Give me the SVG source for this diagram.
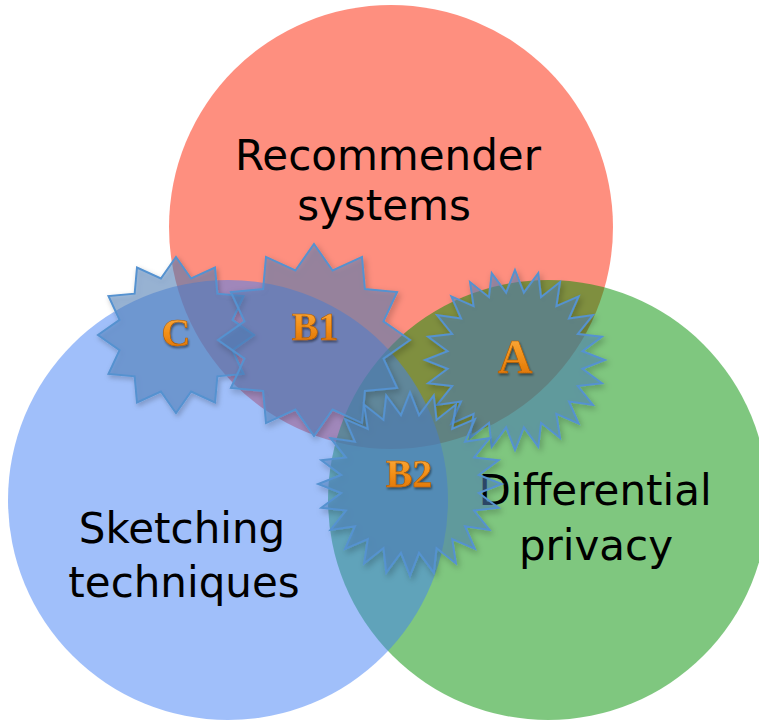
<svg xmlns="http://www.w3.org/2000/svg" xmlns:xlink="http://www.w3.org/1999/xlink" width="759" height="723" viewBox="0 0 759 723">
<style>
.circle-red{fill:#fd1f00;fill-opacity:0.5}
.circle-green{fill:#008f00;fill-opacity:0.5}
.circle-blue{fill:#417ff5;fill-opacity:0.5}
.ctext{font-family:"DejaVu Sans","Open Sans","Liberation Sans",sans-serif;font-size:42px;fill:#000;text-anchor:middle}
.star{fill:#4f81bd;fill-opacity:0.5;stroke:#5592d0;stroke-width:2;stroke-linejoin:miter;filter:url(#shadow)}
.slabel{font-family:"Liberation Serif","DejaVu Serif",serif;font-weight:bold;fill:url(#orange);stroke:#b35c00;stroke-width:0.6;text-anchor:middle;filter:url(#tshadow)}
</style>
<defs>
<linearGradient id="orange" x1="0" y1="0" x2="0" y2="1">
<stop offset="0" stop-color="#fbb24a"/>
<stop offset="0.5" stop-color="#f39018"/>
<stop offset="1" stop-color="#d86c00"/>
</linearGradient>
<filter id="shadow" x="-20%" y="-20%" width="140%" height="140%">
<feDropShadow dx="2" dy="3" stdDeviation="3" flood-color="#000" flood-opacity="0.3"/>
</filter>
<filter id="tshadow" x="-20%" y="-20%" width="140%" height="150%">
<feDropShadow dx="1" dy="2" stdDeviation="1" flood-color="#000" flood-opacity="0.45"/>
</filter>
<polygon id="star12" vector-effect="non-scaling-stroke" points="0,-96 18.6,-69.5 48,-83.1 50.9,-50.9 83.1,-48 69.5,-18.6 96,0 69.5,18.6 83.1,48 50.9,50.9 48,83.1 18.6,69.5 0,96 -18.6,69.5 -48,83.1 -50.9,50.9 -83.1,48 -69.5,18.6 -96,0 -69.5,-18.6 -83.1,-48 -50.9,-50.9 -48,-83.1 -18.6,-69.5"/>
<polygon id="star24" vector-effect="non-scaling-stroke" points="0,-90 8.88,-67.42 23.29,-86.93 26.02,-62.82 45,-77.94 41.4,-53.95 63.64,-63.64 53.95,-41.4 77.94,-45 62.82,-26.02 86.93,-23.29 67.42,-8.88 90,0 67.42,8.88 86.93,23.29 62.82,26.02 77.94,45 53.95,41.4 63.64,63.64 41.4,53.95 45,77.94 26.02,62.82 23.29,86.93 8.88,67.42 0,90 -8.88,67.42 -23.29,86.93 -26.02,62.82 -45,77.94 -41.4,53.95 -63.64,63.64 -53.95,41.4 -77.94,45 -62.82,26.02 -86.93,23.29 -67.42,8.88 -90,0 -67.42,-8.88 -86.93,-23.29 -62.82,-26.02 -77.94,-45 -53.95,-41.4 -63.64,-63.64 -41.4,-53.95 -45,-77.94 -26.02,-62.82 -23.29,-86.93 -8.88,-67.42"/>
</defs>
<rect width="759" height="723" fill="#ffffff"/>
<g id="recommender-systems">
<circle class="circle-red" cx="391" cy="227" r="222"/>
</g>
<g id="differential-privacy">
<circle class="circle-green" cx="548" cy="500" r="220"/>
</g>
<g id="sketching-techniques">
<circle class="circle-blue" cx="228" cy="500" r="220"/>
</g>
<g id="labels">
<text class="ctext" x="388" y="170">Recommender</text>
<text class="ctext" x="384" y="220">systems</text>
<text class="ctext" x="182" y="543">Sketching</text>
<text class="ctext" x="184" y="597">techniques</text>
<text class="ctext" x="595" y="505">Differential</text>
<text class="ctext" x="596" y="560">privacy</text>
</g>
<g id="star-C">
<use xlink:href="#star12" href="#star12" class="star" transform="translate(176,335) scale(0.8125)"/>
<text class="slabel" x="176" y="346" font-size="40">C</text>
</g>
<g id="star-B1">
<use xlink:href="#star12" href="#star12" class="star" transform="translate(314,340)"/>
<text class="slabel" x="315" y="340" font-size="40">B1</text>
</g>
<g id="star-A">
<use xlink:href="#star24" href="#star24" class="star" transform="translate(515,360)"/>
<text class="slabel" x="515" y="373" font-size="48">A</text>
</g>
<g id="star-B2">
<use xlink:href="#star24" href="#star24" class="star" transform="translate(410,484) scale(1.02)"/>
<text class="slabel" x="409" y="487" font-size="40">B2</text>
</g>
</svg>
